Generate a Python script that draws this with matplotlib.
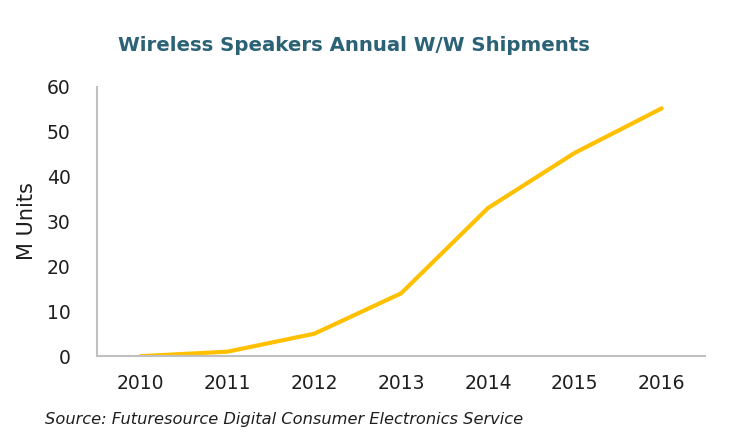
import matplotlib.pyplot as plt

# Wireless speaker shipments, millions of units
years = ["2010", "2011", "2012", "2013", "2014", "2015", "2016"]
units = [0, 1, 5, 14, 33, 45.3, 55.2]
y_ticks = [0, 10, 20, 30, 40, 50, 60]

TITLE_COLOR = "#2b6276"
LINE_COLOR = "#ffc000"
SPINE_COLOR = "#c0c0c0"
TEXT_COLOR = "#1e1e1e"

fig = plt.figure(figsize=(7.36, 4.43), dpi=100)
ax = fig.add_axes([0.132, 0.196, 0.826, 0.608])

x = range(len(years))
ax.plot(x, units, color=LINE_COLOR, linewidth=3, solid_capstyle="round")

ax.set_xlim(-0.5, len(years) - 0.5)
ax.set_ylim(0, 60)
ax.set_xticks(list(x))
ax.set_xticklabels(years)
ax.set_yticks(y_ticks)

ax.tick_params(axis="both", length=0, labelsize=13.5, colors=TEXT_COLOR)
ax.tick_params(axis="x", pad=13)
ax.tick_params(axis="y", pad=19)

for side in ["top", "right"]:
    ax.spines[side].set_visible(False)
for side in ["left", "bottom"]:
    ax.spines[side].set_color(SPINE_COLOR)
    ax.spines[side].set_linewidth(1.5)

ax.set_ylabel("M Units", fontsize=15, color=TEXT_COLOR, labelpad=7)

fig.text(0.481, 0.898, "Wireless Speakers Annual W/W Shipments",
         ha="center", va="center", fontsize=14.2, fontweight="bold",
         color=TITLE_COLOR)
fig.text(0.061, 0.052, "Source: Futuresource Digital Consumer Electronics Service",
         ha="left", va="center", fontsize=11.7, style="italic", color=TEXT_COLOR)

fig.savefig("out.png", dpi=100)
